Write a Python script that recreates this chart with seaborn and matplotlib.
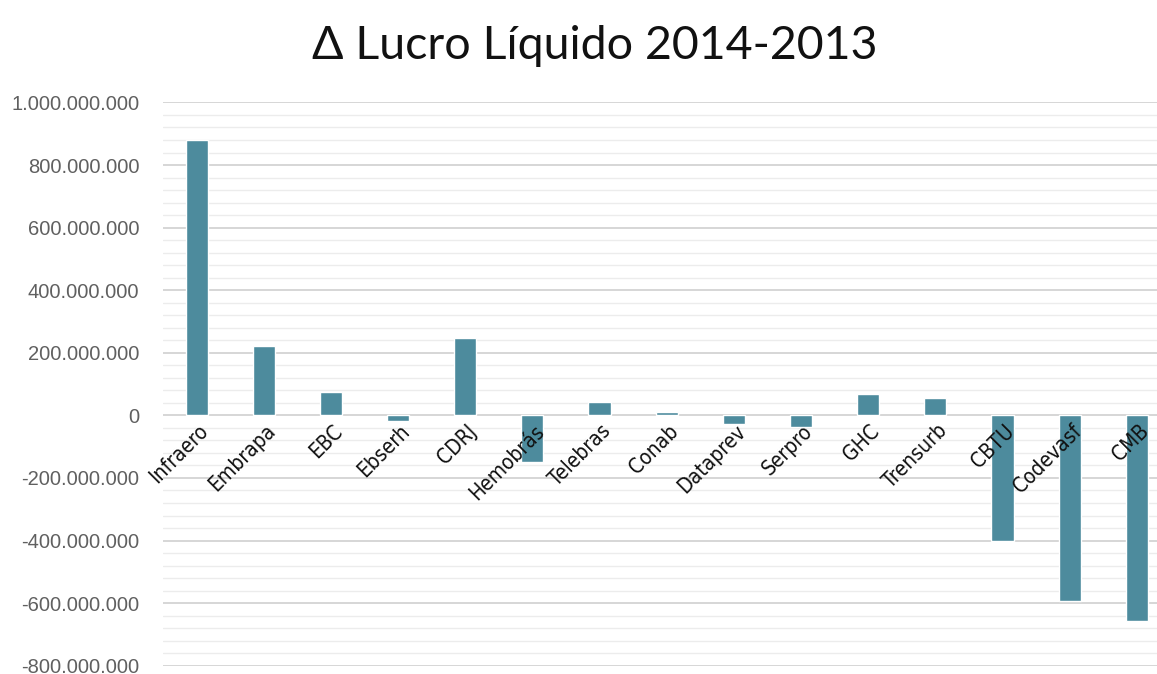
import matplotlib
matplotlib.use("Agg")
import matplotlib.pyplot as plt
import matplotlib.ticker as mticker
import seaborn as sns
import pandas as pd

categories = ["Infraero", "Embrapa", "EBC", "Ebserh", "CDRJ", "Hemobrás", "Telebras",
              "Conab", "Dataprev", "Serpro", "GHC", "Trensurb", "CBTU", "Codevasf", "CMB"]
values = [880e6, 221e6, 74e6, -17e6, 247e6, -150e6, 43e6,
          11e6, -28e6, -38e6, 68e6, 55e6, -401e6, -592e6, -656e6]
title = "Δ Lucro Líquido 2014-2013"

sns.set_theme(style="white")
plt.rcParams["font.family"] = ["Liberation Sans", "DejaVu Sans"]

fig = plt.figure(figsize=(11.57, 6.74), dpi=100)
ax = fig.add_axes([0.1409, 0.0123, 0.8591, 0.8357])

df = pd.DataFrame({"cat": categories, "val": values})
sns.barplot(data=df, x="cat", y="val", color="#4d8b9d", saturation=1,
            width=0.33, ax=ax, zorder=3)

ax.set_ylim(-800e6, 1000e6)
ax.set_xlim(-0.5, 14.3)
ax.yaxis.set_major_locator(mticker.MultipleLocator(200e6))
ax.yaxis.set_minor_locator(mticker.MultipleLocator(40e6))
ax.yaxis.set_major_formatter(mticker.FuncFormatter(
    lambda v, p: f"{int(round(v)):,}".replace(",", ".")))
ax.grid(which="major", axis="y", color="#d6d6d6", lw=1.4, zorder=0)
ax.grid(which="minor", axis="y", color="#ececec", lw=1.0, zorder=0)
ax.grid(axis="x", visible=False)
ax.set_axisbelow(True)
for s in ax.spines.values():
    s.set_visible(False)
ax.tick_params(axis="y", which="both", length=0, pad=17, labelsize=14.5,
               labelcolor="#606060")
ax.tick_params(axis="x", length=0)
ax.set_xticklabels([])
ax.set_xlabel("")
ax.set_ylabel("")

for i, c in enumerate(categories):
    ax.annotate(c, xy=(i, 0), xytext=(1, -4), textcoords="offset points",
                rotation=45, ha="right", va="top", rotation_mode="anchor",
                fontsize=15, color="#111111", fontstretch="condensed",
                family=["DejaVu Sans"],
                annotation_clip=False, zorder=4)

fig.text(0.514, 0.932, title, ha="center", va="center", fontsize=33.5,
         family=["Lato", "DejaVu Sans"], color="#111111")

fig.savefig("out.png", dpi=100)
